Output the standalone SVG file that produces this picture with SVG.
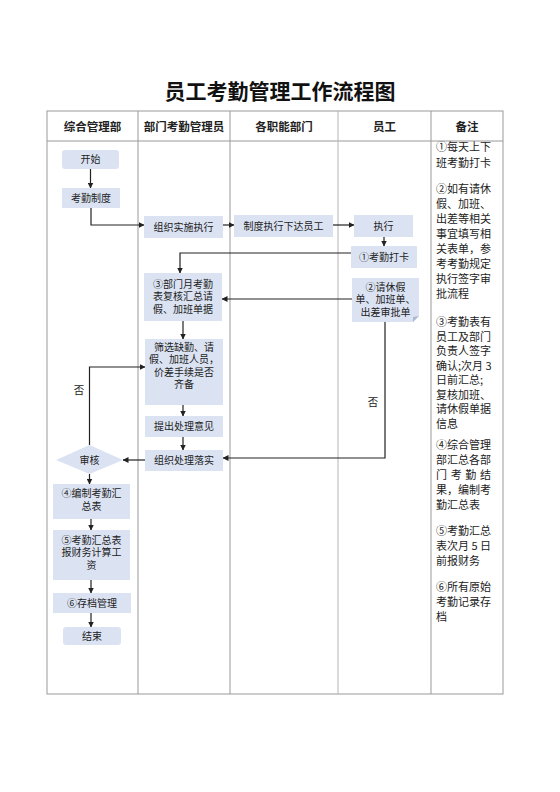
<svg xmlns="http://www.w3.org/2000/svg" width="560" height="792" viewBox="0 0 560 792">
<style>
.t{font-family:"Noto Sans CJK SC","Liberation Sans",sans-serif;fill:#222}
.title{font-size:21px;font-weight:bold;text-anchor:middle;fill:#111}
.hd{font-size:11.5px;font-weight:bold;text-anchor:middle}
.nd{font-family:"Liberation Sans","Noto Sans CJK SC",sans-serif;font-size:10px;text-anchor:middle}
.nt{font-size:11px}
.box{fill:#dbe3f3}
.grid{stroke:#999;stroke-width:1;fill:none}
.cn{stroke:#222;stroke-width:1.2;fill:none;marker-end:url(#ah)}
</style>
<defs>
<marker id="ah" markerWidth="6" markerHeight="6" refX="5.5" refY="3" orient="auto" markerUnits="userSpaceOnUse"><path d="M0,0 L6,3 L0,6 z" fill="#222"/></marker>
</defs>
<rect width="560" height="792" fill="#fff"/>
<text class="t title" x="280" y="99">员工考勤管理工作流程图</text>
<g id="table">
<rect class="grid" x="47" y="111" width="456" height="583"/>
<line class="grid" x1="47" y1="141" x2="503" y2="141"/>
<line class="grid" x1="138" y1="111" x2="138" y2="694"/>
<line class="grid" x1="230" y1="111" x2="230" y2="694"/>
<line class="grid" x1="338" y1="111" x2="338" y2="694" style="stroke:#b5b5b5"/>
<line class="grid" x1="431" y1="111" x2="431" y2="694"/>
<text class="t hd" x="92.5" y="131">综合管理部</text>
<text class="t hd" x="184" y="131">部门考勤管理员</text>
<text class="t hd" x="284" y="131">各职能部门</text>
<text class="t hd" x="384.5" y="131">员工</text>
<text class="t hd" x="467" y="131">备注</text>
</g>
<g id="connectors">
<path class="cn" d="M90.5,169 V188"/>
<path class="cn" d="M91,208 V225 H144"/>
<path class="cn" d="M223,225 H234"/>
<path class="cn" d="M333,225 H354"/>
<path class="cn" d="M384,237 V246"/>
<path class="cn" d="M351,253 H180 V273"/>
<path class="cn" d="M352,299 H222"/>
<path class="cn" d="M183,321 V339"/>
<path class="cn" d="M183,405 V416"/>
<path class="cn" d="M183,437 V450"/>
<path class="cn" d="M385,322 V458 H223"/>
<path class="cn" d="M145,460 H123"/>
<path class="cn" d="M89.5,445 V367 H145"/>
<path class="cn" d="M89.5,474 V484"/>
<path class="cn" d="M91,519 V530"/>
<path class="cn" d="M91,580 V593"/>
<path class="cn" d="M91,613 V627"/>
<text class="t nd" x="373" y="406" style="font-size:10.5px">否</text>
<text class="t nd" x="79" y="394" style="font-size:10.5px">否</text>
</g>
<g id="n-start"><rect class="box" x="62" y="150" width="57" height="19" rx="3"/><text class="t nd" x="90.5" y="163">开始</text></g>
<g id="n-zhidu"><rect class="box" x="62" y="188" width="58" height="20"/><text class="t nd" x="91" y="201.5">考勤制度</text></g>
<g id="n-zuzhi"><rect class="box" x="144" y="216" width="79" height="22"/><text class="t nd" x="183.5" y="230.5">组织实施执行</text></g>
<g id="n-xiada"><rect class="box" x="234" y="215" width="99" height="22"/><text class="t nd" x="283.5" y="229.5">制度执行下达员工</text></g>
<g id="n-zhixing"><rect class="box" x="354" y="215" width="59" height="22"/><text class="t nd" x="383.5" y="229.5">执行</text></g>
<g id="n-daka"><rect class="box" x="351" y="246" width="66" height="22"/><text class="t nd" x="384" y="260.5">①考勤打卡</text></g>
<g id="n-qingjia"><path class="box" d="M352,278 H419 V316 L413,322 H352 Z"/><path d="M413,322 L419,316 L413,317 Z" fill="#aeb8cf"/><text class="t nd" x="385.5" y="290.5">②请休假</text><text class="t nd" x="385.5" y="303">单、加班单、</text><text class="t nd" x="385.5" y="315.5">出差审批单</text></g>
<g id="n-fuhe"><rect class="box" x="144" y="273" width="78" height="48"/><text class="t nd" x="183" y="287.5">③部门月考勤</text><text class="t nd" x="183" y="300">表复核汇总请</text><text class="t nd" x="183" y="312.5">假、加班单据</text></g>
<g id="n-shaixuan"><rect class="box" x="145" y="339" width="78" height="66"/><text class="t nd" x="184" y="350.5">筛选缺勤、请</text><text class="t nd" x="184" y="363">假、加班人员，</text><text class="t nd" x="184" y="375.5">价差手续是否</text><text class="t nd" x="184" y="388">齐备</text></g>
<g id="n-tichu"><rect class="box" x="145" y="416" width="78" height="21"/><text class="t nd" x="184" y="430">提出处理意见</text></g>
<g id="n-luoshi"><rect class="box" x="145" y="450" width="78" height="21"/><text class="t nd" x="184" y="464">组织处理落实</text></g>
<g id="n-shenhe"><path class="box" d="M56,460 L89.5,445 L123,460 L89.5,474 Z"/><text class="t nd" x="89.5" y="463.5">审核</text></g>
<g id="n-bianzhi"><rect class="box" x="53" y="484" width="77" height="35"/><text class="t nd" x="91.5" y="497">④编制考勤汇</text><text class="t nd" x="91.5" y="509.5">总表</text></g>
<g id="n-caiwu"><rect class="box" x="53" y="530" width="77" height="50"/><text class="t nd" x="91.5" y="543.5">⑤考勤汇总表</text><text class="t nd" x="91.5" y="556">报财务计算工</text><text class="t nd" x="91.5" y="568.5">资</text></g>
<g id="n-cundang"><rect class="box" x="53" y="593" width="78" height="20"/><text class="t nd" x="92" y="606.5">⑥存档管理</text></g>
<g id="n-end"><rect class="box" x="63" y="627" width="58" height="18" rx="3"/><text class="t nd" x="92" y="639.5">结束</text></g>
<g id="notes" class="t nt">
<text x="436" y="151">①每天上下</text>
<text x="436" y="167">班考勤打卡</text>
<text x="436" y="193">②如有请休</text>
<text x="436" y="208">假、加班、</text>
<text x="436" y="223">出差等相关</text>
<text x="436" y="238">事宜填写相</text>
<text x="436" y="253">关表单，参</text>
<text x="436" y="268">考考勤规定</text>
<text x="436" y="283">执行签字审</text>
<text x="436" y="298">批流程</text>
<text x="436" y="326">③考勤表有</text>
<text x="436" y="340.5">员工及部门</text>
<text x="436" y="355">负责人签字</text>
<text x="436" y="369.5">确认;次月 3</text>
<text x="436" y="384">日前汇总;</text>
<text x="436" y="398.5">复核加班、</text>
<text x="436" y="413">请休假单据</text>
<text x="436" y="427.5">信息</text>
<text x="436" y="449">④综合管理</text>
<text x="436" y="464">部汇总各部</text>
<text x="436" y="479" textLength="55" lengthAdjust="spacing">门考勤结</text>
<text x="436" y="494">果，编制考</text>
<text x="436" y="509">勤汇总表</text>
<text x="436" y="535">⑤考勤汇总</text>
<text x="436" y="550" textLength="55" lengthAdjust="spacing">表次月 5 日</text>
<text x="436" y="565">前报财务</text>
<text x="436" y="591">⑥所有原始</text>
<text x="436" y="606">考勤记录存</text>
<text x="436" y="621">档</text>
</g>
</svg>
